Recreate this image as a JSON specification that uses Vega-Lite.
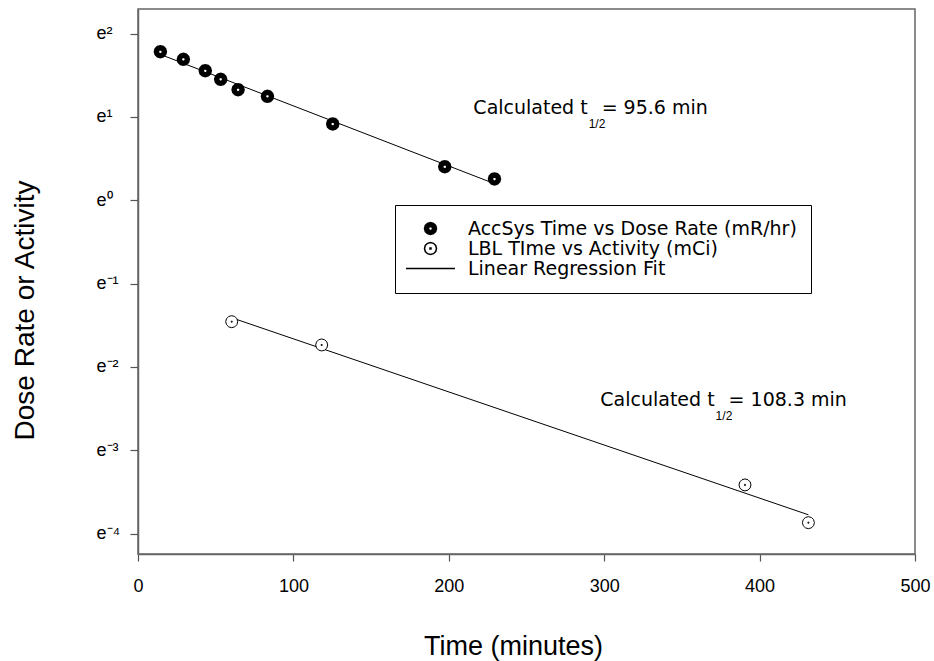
{
  "$schema": "https://vega.github.io/schema/vega-lite/v6.json",
  "width": 777,
  "height": 545,
  "autosize": "none",
  "padding": {"left": 138, "top": 9, "right": 19, "bottom": 107},
  "background": "white",
  "config": {
    "view": {"stroke": "#666", "strokeWidth": 1.5},
    "font": "Liberation Sans"
  },
  "datasets": {
    "points": [
      {"series": "AccSys Time vs Dose Rate (mR/hr)", "time": 14.4, "value": 5.948},
      {"series": "AccSys Time vs Dose Rate (mR/hr)", "time": 29.2, "value": 5.430},
      {"series": "AccSys Time vs Dose Rate (mR/hr)", "time": 43.3, "value": 4.735},
      {"series": "AccSys Time vs Dose Rate (mR/hr)", "time": 53.2, "value": 4.272},
      {"series": "AccSys Time vs Dose Rate (mR/hr)", "time": 64.4, "value": 3.770},
      {"series": "AccSys Time vs Dose Rate (mR/hr)", "time": 83.3, "value": 3.483},
      {"series": "AccSys Time vs Dose Rate (mR/hr)", "time": 125.3, "value": 2.499},
      {"series": "AccSys Time vs Dose Rate (mR/hr)", "time": 197.4, "value": 1.496},
      {"series": "AccSys Time vs Dose Rate (mR/hr)", "time": 229.4, "value": 1.292},
      {"series": "LBL TIme vs Activity (mCi)", "time": 60.3, "value": 0.2330},
      {"series": "LBL TIme vs Activity (mCi)", "time": 118.2, "value": 0.1762},
      {"series": "LBL TIme vs Activity (mCi)", "time": 390.6, "value": 0.03284},
      {"series": "LBL TIme vs Activity (mCi)", "time": 431.4, "value": 0.02088}
    ],
    "fits": [
      {"fit": "AccSys", "time": 14.4, "value": 5.758},
      {"fit": "AccSys", "time": 229.4, "value": 1.221},
      {"fit": "LBL", "time": 60.3, "value": 0.2442},
      {"fit": "LBL", "time": 431.4, "value": 0.02295}
    ],
    "notes": [
      {"time": 290, "value": 2.818, "lead": "Calculated t", "sub": "1/2", "rest": "= 95.6 min"},
      {"time": 371.7, "value": 0.08466, "lead": "Calculated t", "sub": "1/2", "rest": "\u00a0= 108.3 min"}
    ]
  },
  "encoding": {
    "x": {
      "field": "time", "type": "quantitative",
      "scale": {"domain": [0, 500], "nice": false, "zero": false},
      "axis": {
        "values": [0, 100, 200, 300, 400, 500],
        "grid": false,
        "title": "Time (minutes)",
        "titleFont": "Liberation Sans", "titleFontSize": 27, "titleFontWeight": "normal", "titleColor": "black",
        "titleX": 375, "titleY": 100, "titleBaseline": "alphabetic", "titleAlign": "center",
        "labelFont": "Liberation Sans", "labelFontSize": 18, "labelColor": "black", "labelPadding": 16,
        "labelFlush": false, "labelOverlap": false,
        "tickSize": 7, "tickColor": "#555", "tickWidth": 1.2,
        "domainColor": "#666", "domainWidth": 1.5
      }
    },
    "y": {
      "field": "value", "type": "quantitative",
      "scale": {"type": "log", "base": 2.718281828459045, "domain": [0.014335, 9.934], "nice": false},
      "axis": {
        "values": [0.018315639, 0.049787068, 0.135335283, 0.367879441, 1, 2.718281828, 7.389056099],
        "labelExpr": "'e' + ['⁻⁴','⁻³','⁻²','⁻¹','⁰','¹','²'][round(log(datum.value)) + 4]",
        "grid": false,
        "title": "Dose Rate or Activity",
        "titleFont": "Liberation Sans", "titleFontSize": 28, "titleFontWeight": "normal", "titleColor": "black",
        "titleX": -105, "titleY": 301, "titleBaseline": "alphabetic", "titleAlign": "center", "titleAngle": -90,
        "labelFont": "Liberation Sans", "labelFontSize": 18, "labelColor": "black",
        "labelAlign": "left", "labelBaseline": "middle", "labelPadding": 34,
        "labelFlush": false, "labelOverlap": false,
        "tickSize": 8, "tickColor": "#555", "tickWidth": 1.2,
        "domainColor": "#666", "domainWidth": 1.5
      }
    }
  },
  "layer": [
    {
      "data": {"name": "fits"},
      "mark": {"type": "line", "color": "black", "strokeWidth": 1},
      "encoding": {"detail": {"field": "fit"}}
    },
    {
      "data": {"name": "points"},
      "transform": [{"filter": "datum.series === 'AccSys Time vs Dose Rate (mR/hr)'"}],
      "mark": {"type": "point", "fill": "white", "stroke": "black", "strokeWidth": 1.5, "size": 100, "opacity": 1, "filled": false},
      "encoding": {
        "shape": {
          "field": "series", "type": "nominal",
          "scale": {
            "domain": ["AccSys Time vs Dose Rate (mR/hr)", "LBL TIme vs Activity (mCi)", "Linear Regression Fit"],
            "range": [
              "M0.4,0L0.346,0.2L0.2,0.346L0,0.4L-0.2,0.346L-0.346,0.2L-0.4,0L-0.346,-0.2L-0.2,-0.346L0,-0.4L0.2,-0.346L0.346,-0.2ZM0.6,0L0.52,0.3L0.3,0.52L0,0.6L-0.3,0.52L-0.52,0.3L-0.6,0L-0.52,-0.3L-0.3,-0.52L0,-0.6L0.3,-0.52L0.52,-0.3ZM0.8,0L0.693,0.4L0.4,0.693L0,0.8L-0.4,0.693L-0.693,0.4L-0.8,0L-0.693,-0.4L-0.4,-0.693L0,-0.8L0.4,-0.693L0.693,-0.4ZM1,0L0.866,0.5L0.5,0.866L0,1L-0.5,0.866L-0.866,0.5L-1,0L-0.866,-0.5L-0.5,-0.866L0,-1L0.5,-0.866L0.866,-0.5ZM1.2,0L1.039,0.6L0.6,1.039L0,1.2L-0.6,1.039L-1.039,0.6L-1.2,0L-1.039,-0.6L-0.6,-1.039L0,-1.2L0.6,-1.039L1.039,-0.6Z",
              "M1.2,0L1.039,0.6L0.6,1.039L0,1.2L-0.6,1.039L-1.039,0.6L-1.2,0L-1.039,-0.6L-0.6,-1.039L0,-1.2L0.6,-1.039L1.039,-0.6ZM-0.1,-0.1L0.1,-0.1L0.1,0.1L-0.1,0.1Z",
              "M-4.9,0L4.9,0"
            ]
          },
          "legend": {
            "title": null,
            "orient": "none",
            "legendX": 257,
            "legendY": 196,
            "direction": "vertical",
            "symbolOffset": 12,
            "labelFont": "DejaVu Sans",
            "labelFontSize": 19,
            "labelColor": "black",
            "labelOffset": 28,
            "labelLimit": 500,
            "rowPadding": 0,
            "padding": 14,
            "strokeColor": "black",
            "fillColor": "white",
            "encode": {
              "symbols": {
                "stroke": {"value": "black"},
                "fill": {"value": "white"},
                "opacity": {"value": 1}
              }
            }
          }
        }
      }
    },
    {
      "data": {"name": "points"},
      "transform": [{"filter": "datum.series === 'LBL TIme vs Activity (mCi)'"}],
      "mark": {"type": "point", "fill": "white", "stroke": "black", "strokeWidth": 1, "size": 100, "opacity": 1, "filled": false},
      "encoding": {
        "shape": {"field": "series", "type": "nominal"}
      }
    },
    {
      "data": {"name": "notes"},
      "mark": {"type": "text", "align": "right", "baseline": "alphabetic", "dx": -1, "font": "DejaVu Sans", "fontSize": 19, "color": "black"},
      "encoding": {"text": {"field": "lead"}}
    },
    {
      "data": {"name": "notes"},
      "mark": {"type": "text", "align": "left", "baseline": "alphabetic", "dx": 0, "dy": 14, "font": "Liberation Sans Narrow, Liberation Sans", "fontSize": 12, "color": "black"},
      "encoding": {"text": {"field": "sub"}}
    },
    {
      "data": {"name": "notes"},
      "mark": {"type": "text", "align": "left", "baseline": "alphabetic", "dx": 13, "font": "DejaVu Sans", "fontSize": 19, "color": "black"},
      "encoding": {"text": {"field": "rest"}}
    }
  ]
}
